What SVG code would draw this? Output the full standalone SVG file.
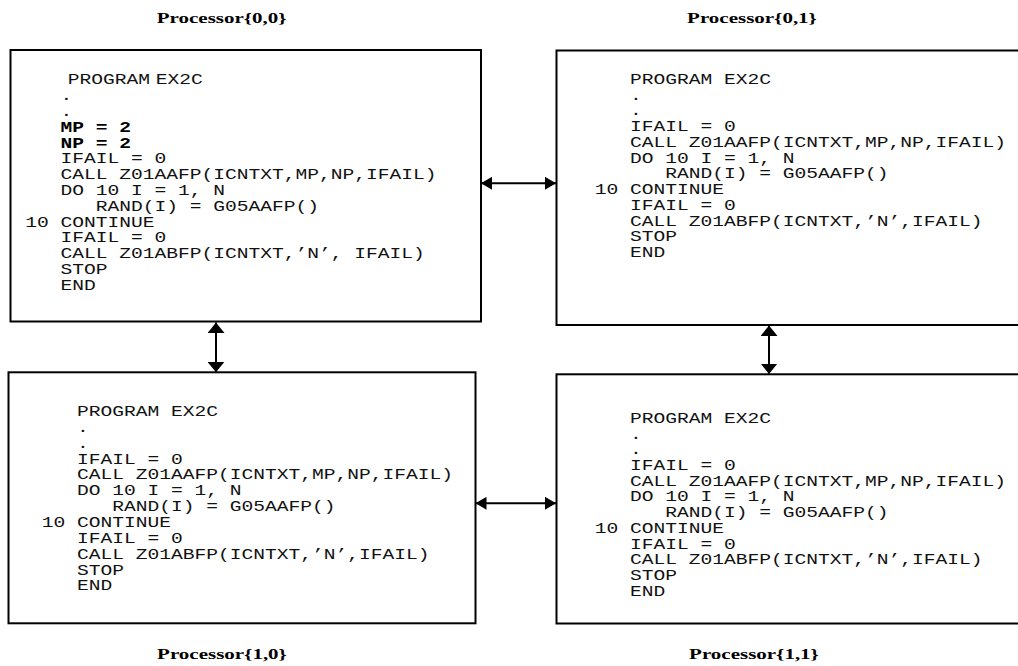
<svg xmlns="http://www.w3.org/2000/svg" width="1018" height="666" viewBox="0 0 1018 666">
<style>
.box{fill:#fff;stroke:#000;stroke-width:2}
.code{font-family:"Liberation Mono","Courier New",monospace;font-size:14px;fill:#111}
.b{font-weight:bold;fill:#000}
.title{font-family:"Liberation Serif","Times New Roman",serif;font-size:15px;font-weight:bold;fill:#000;text-anchor:middle}
.conn{stroke:#000;stroke-width:2;fill:none}
</style>
<defs>
<marker id="mh" markerUnits="userSpaceOnUse" markerWidth="11" markerHeight="13" refX="11" refY="6.5" orient="auto-start-reverse"><path d="M0,0 L11,6.5 L0,13 z" fill="#000"/></marker>
<marker id="mv" markerUnits="userSpaceOnUse" markerWidth="11" markerHeight="17" refX="10.5" refY="8.5" orient="auto-start-reverse"><path d="M0,0 L10.5,8.5 L0,17 z" fill="#000"/></marker>
</defs>
<rect width="1018" height="666" fill="#fff"/>

<g id="proc00">
<rect class="box" x="10.5" y="50" width="470.5" height="271.5"/>
<g transform="translate(60.5,0) scale(1.4,1)" class="code">
<text x="5.1" y="84.5">PROGRAM<tspan x="68">EX2C</tspan></text>
<text x="0" y="100.3">.</text>
<text x="0" y="116.1">.</text>
<text x="0" y="131.9" class="b">MP = 2</text>
<text x="0" y="147.7" class="b">NP = 2</text>
<text x="0" y="163.5">IFAIL = 0</text>
<text x="0" y="179.3">CALL Z01AAFP(ICNTXT,MP,NP,IFAIL)</text>
<text x="0" y="195.1">DO 10 I = 1, N</text>
<text x="25.2" y="210.9">RAND(I) = G05AAFP()</text>
<text x="-25.2" y="226.7">10 CONTINUE</text>
<text x="0" y="242.5">IFAIL = 0</text>
<text x="0" y="258.3">CALL Z01ABFP(ICNTXT,’N’, IFAIL)</text>
<text x="0" y="274.1">STOP</text>
<text x="0" y="289.9">END</text>
</g>
<text class="title" transform="translate(221.7,22.5) scale(1.4,1)">Processor{0,0}</text>
</g>

<g id="proc01">
<rect class="box" x="556.5" y="50.5" width="480" height="274.5"/>
<g transform="translate(630,0) scale(1.4,1)" class="code">
<text x="0" y="84">PROGRAM EX2C</text>
<text x="0" y="99.75">.</text>
<text x="0" y="115.5">.</text>
<text x="0" y="131.25">IFAIL = 0</text>
<text x="0" y="147">CALL Z01AAFP(ICNTXT,MP,NP,IFAIL)</text>
<text x="0" y="162.75">DO 10 I = 1, N</text>
<text x="25.2" y="178.5">RAND(I) = G05AAFP()</text>
<text x="-25.2" y="194.25">10 CONTINUE</text>
<text x="0" y="210">IFAIL = 0</text>
<text x="0" y="225.75">CALL Z01ABFP(ICNTXT,’N’,IFAIL)</text>
<text x="0" y="241.5">STOP</text>
<text x="0" y="257.25">END</text>
</g>
<text class="title" transform="translate(752,22.5) scale(1.4,1)">Processor{0,1}</text>
</g>

<g id="proc10">
<rect class="box" x="8.5" y="372.3" width="467" height="251"/>
<g transform="translate(77,0) scale(1.4,1)" class="code">
<text x="0" y="416">PROGRAM EX2C</text>
<text x="0" y="431.9">.</text>
<text x="0" y="447.7">.</text>
<text x="0" y="463.6">IFAIL = 0</text>
<text x="0" y="479.4">CALL Z01AAFP(ICNTXT,MP,NP,IFAIL)</text>
<text x="0" y="495.3">DO 10 I = 1, N</text>
<text x="25.2" y="511.2">RAND(I) = G05AAFP()</text>
<text x="-25.2" y="527">10 CONTINUE</text>
<text x="0" y="542.9">IFAIL = 0</text>
<text x="0" y="558.7">CALL Z01ABFP(ICNTXT,’N’,IFAIL)</text>
<text x="0" y="574.6">STOP</text>
<text x="0" y="590.5">END</text>
</g>
<text class="title" transform="translate(222,659) scale(1.4,1)">Processor{1,0}</text>
</g>

<g id="proc11">
<rect class="box" x="556.5" y="374.3" width="480" height="249.2"/>
<g transform="translate(630,0) scale(1.4,1)" class="code">
<text x="0" y="423">PROGRAM EX2C</text>
<text x="0" y="438.7">.</text>
<text x="0" y="454.4">.</text>
<text x="0" y="470.1">IFAIL = 0</text>
<text x="0" y="485.8">CALL Z01AAFP(ICNTXT,MP,NP,IFAIL)</text>
<text x="0" y="501.5">DO 10 I = 1, N</text>
<text x="25.2" y="517.2">RAND(I) = G05AAFP()</text>
<text x="-25.2" y="532.9">10 CONTINUE</text>
<text x="0" y="548.6">IFAIL = 0</text>
<text x="0" y="564.3">CALL Z01ABFP(ICNTXT,’N’,IFAIL)</text>
<text x="0" y="580">STOP</text>
<text x="0" y="595.7">END</text>
</g>
<text class="title" transform="translate(754,659) scale(1.4,1)">Processor{1,1}</text>
</g>

<g id="connectors" class="conn">
<line x1="481" y1="183.3" x2="556" y2="183.3" marker-start="url(#mh)" marker-end="url(#mh)"/>
<line x1="475.5" y1="503.3" x2="556" y2="503.3" marker-start="url(#mh)" marker-end="url(#mh)"/>
<line x1="216" y1="322.5" x2="216" y2="372.3" marker-start="url(#mv)" marker-end="url(#mv)"/>
<line x1="769" y1="325.5" x2="769" y2="374" marker-start="url(#mv)" marker-end="url(#mv)"/>
</g>
</svg>
